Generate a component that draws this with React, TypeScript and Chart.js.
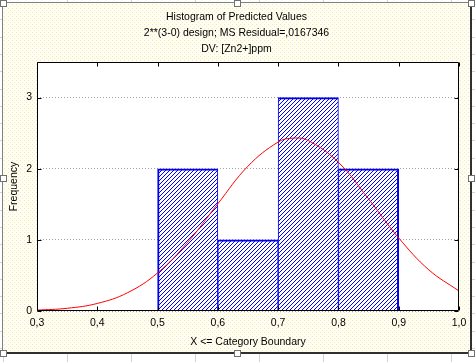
import React, { useEffect, useRef } from "react";
import { Chart, registerables } from "chart.js";

Chart.register(...registerables);

const titleLines = [
  "Histogram of Predicted Values",
  "2**(3-0) design; MS Residual=,0167346",
  "DV: [Zn2+]ppm",
];
const xAxisTitle = "X <= Category Boundary";
const yAxisTitle = "Frequency";

// histogram bins (centre of each 0.1-wide category) and counts
const binCenters = [0.55, 0.65, 0.75, 0.85];
const binCounts = [2, 1, 3, 2];

// fitted normal curve
const curveX = [0.3, 0.35, 0.4, 0.45, 0.5, 0.55, 0.6, 0.65, 0.7, 0.725, 0.75, 0.8, 0.85, 0.9, 0.95, 1.0];
const curveY = [0.012, 0.038, 0.106, 0.256, 0.535, 0.966, 1.508, 2.036, 2.375, 2.43, 2.396, 2.089, 1.575, 1.027, 0.578, 0.281];

const xTicks = [0.3, 0.4, 0.5, 0.6, 0.7, 0.8, 0.9, 1.0];
const yTicks = [0, 1, 2, 3];

const FONT = "'Liberation Sans', Arial, sans-serif";
const FSIZE = 10.5;

function makeHatch(): CanvasPattern | string {
  const c = document.createElement("canvas");
  c.width = 4;
  c.height = 4;
  const g = c.getContext("2d");
  if (!g) return "#8080ff";
  g.fillStyle = "#ffffff";
  g.fillRect(0, 0, 4, 4);
  g.fillStyle = "#0000ff";
  for (let i = 0; i < 4; i++) g.fillRect(i, 3 - i, 1, 1);
  return g.createPattern(c, "repeat") || "#8080ff";
}

function makeCream(): CanvasPattern | string {
  const c = document.createElement("canvas");
  c.width = 4;
  c.height = 4;
  const g = c.getContext("2d");
  if (!g) return "#fffde6";
  g.fillStyle = "#fffff0";
  g.fillRect(0, 0, 4, 4);
  g.fillStyle = "#fbd8ec";
  g.fillRect(0, 0, 1, 1);
  g.fillStyle = "#f6f0b8";
  g.fillRect(2, 2, 1, 1);
  return g.createPattern(c, "repeat") || "#fffde6";
}

const backgroundPlugin = {
  id: "sheetBackground",
  beforeDraw(chart: any) {
    const ctx = chart.ctx as CanvasRenderingContext2D;
    const W = chart.width;
    const H = chart.height;
    ctx.save();
    ctx.fillStyle = "#ffffff";
    ctx.fillRect(0, 0, W, H);
    // spreadsheet cell lines
    ctx.strokeStyle = "#d4d4d4";
    ctx.lineWidth = 1;
    for (let x = 3; x < W; x += 64) {
      ctx.beginPath();
      ctx.moveTo(x + 0.5, 0);
      ctx.lineTo(x + 0.5, H);
      ctx.stroke();
    }
    for (let y = 2; y < H; y += 17.3) {
      ctx.beginPath();
      ctx.moveTo(0, Math.round(y) + 0.5);
      ctx.lineTo(W, Math.round(y) + 0.5);
      ctx.stroke();
    }
    // chart object frame
    ctx.fillStyle = makeCream();
    ctx.fillRect(3, 3, 468, 350);
    ctx.strokeStyle = "#808080";
    ctx.beginPath();
    ctx.moveTo(2.5, 353);
    ctx.lineTo(2.5, 2.5);
    ctx.lineTo(471, 2.5);
    ctx.stroke();
    ctx.strokeStyle = "#303030";
    ctx.lineWidth = 2;
    ctx.beginPath();
    ctx.moveTo(471, 2);
    ctx.lineTo(471, 353);
    ctx.lineTo(2, 353);
    ctx.stroke();
    // selection handles
    ctx.lineWidth = 1;
    const hs = [
      [3, 3], [237, 3], [471, 3],
      [3, 178], [471, 178],
      [3, 353], [237, 353], [471, 353],
    ];
    for (const [hx, hy] of hs) {
      ctx.fillStyle = "#ffffff";
      ctx.fillRect(hx - 3, hy - 3, 6, 6);
      ctx.strokeStyle = "#707070";
      ctx.strokeRect(hx - 3 + 0.5, hy - 3 + 0.5, 6, 6);
    }
    // plot area
    const a = chart.chartArea;
    ctx.fillStyle = "#ffffff";
    ctx.fillRect(a.left, a.top, a.right - a.left, a.bottom - a.top);
    ctx.restore();
  },
  afterDatasetsDraw(chart: any) {
    const ctx = chart.ctx as CanvasRenderingContext2D;
    const a = chart.chartArea;
    const xs = chart.scales.x;
    const ys = chart.scales.y;
    ctx.save();
    ctx.strokeStyle = "#000000";
    ctx.lineWidth = 1;
    const L = Math.round(a.left) + 0.5;
    const R = Math.round(a.right) - 0.5;
    const T = Math.round(a.top) + 0.5;
    const B = Math.round(a.bottom) - 0.5;
    ctx.beginPath();
    ctx.rect(L, T, R - L, B - T);
    // inward tick marks
    for (const v of xTicks) {
      const px = Math.round(xs.getPixelForValue(v)) + 0.5;
      ctx.moveTo(px, B);
      ctx.lineTo(px, B - 4);
      ctx.moveTo(px, T);
      ctx.lineTo(px, T + 4);
    }
    for (const v of yTicks) {
      const py = Math.round(ys.getPixelForValue(v)) + 0.5;
      ctx.moveTo(L, py);
      ctx.lineTo(L + 4, py);
      ctx.moveTo(R, py);
      ctx.lineTo(R - 4, py);
    }
    ctx.stroke();
    ctx.restore();
  },
};

export default function App() {
  const ref = useRef<HTMLCanvasElement | null>(null);

  useEffect(() => {
    document.body.style.margin = "0";
    const canvas = ref.current;
    if (!canvas) return;
    const hatch = makeHatch();
    const font = { family: FONT, size: FSIZE, weight: "normal", lineHeight: "16px" } as any;
    const chart = new Chart(canvas, {
      type: "bar",
      data: {
        datasets: [
          {
            type: "line",
            label: "Normal",
            data: curveX.map((x, i) => ({ x, y: curveY[i] })),
            borderColor: "#ff0000",
            borderWidth: 1,
            pointRadius: 0,
            tension: 0.4,
            fill: false,
            order: 0,
          } as any,
          {
            type: "bar",
            label: "Count",
            data: binCenters.map((x, i) => ({ x, y: binCounts[i] })),
            backgroundColor: hatch as any,
            borderColor: "#0000ee",
            borderWidth: (c: any) => ({
              left: c.dataIndex === 0 ? 2 : 1,
              right: c.dataIndex === binCenters.length - 1 ? 2 : 1,
              top: 2,
              bottom: 0,
            }),
            borderSkipped: false,
            barPercentage: 1,
            categoryPercentage: 1,
            order: 1,
          } as any,
        ],
      },
      options: {
        animation: false,
        responsive: false,
        devicePixelRatio: 1,
        events: [],
        layout: { padding: { left: 14, right: 16, top: 3, bottom: 9 } },
        plugins: {
          legend: { display: false },
          tooltip: { enabled: false },
          title: {
            display: true,
            text: titleLines,
            color: "#000000",
            font,
            padding: { top: 6, bottom: 5 },
          },
        },
        scales: {
          x: {
            type: "linear",
            min: 0.3,
            max: 1.0,
            offset: false,
            afterBuildTicks: (s: any) => {
              s.ticks = xTicks.map((v) => ({ value: v }));
            },
            afterFit: (s: any) => {
              s.height = 42;
            },
            grid: { display: false, drawTicks: false, offset: false },
            border: { display: false },
            ticks: {
              color: "#000000",
              padding: 4,
              maxRotation: 0,
              autoSkip: false,
              font,
              callback: (v: any) => Number(v).toFixed(1).replace(".", ","),
            },
            title: {
              display: true,
              text: xAxisTitle,
              color: "#000000",
              font,
              padding: { top: 0, bottom: 3 },
            },
          },
          y: {
            type: "linear",
            min: 0,
            max: 3.5,
            afterBuildTicks: (s: any) => {
              s.ticks = yTicks.map((v) => ({ value: v }));
            },
            afterFit: (s: any) => {
              s.width = 23;
            },
            grid: {
              color: "#a89cb0",
              lineWidth: 1,
              drawTicks: false,
            },
            border: { display: false, dash: [1, 2] },
            ticks: {
              color: "#000000",
              padding: 5,
              autoSkip: false,
              font,
              callback: (v: any) => String(v),
            },
            title: {
              display: true,
              text: yAxisTitle,
              color: "#000000",
              font,
              padding: { top: -8, bottom: 0 },
            },
          },
        },
      },
      plugins: [backgroundPlugin],
    });
    return () => chart.destroy();
  }, []);

  return (
    <div style={{ position: "fixed", left: 0, top: 0, width: 475, height: 362 }}>
      <canvas ref={ref} width={475} height={362} />
    </div>
  );
}
